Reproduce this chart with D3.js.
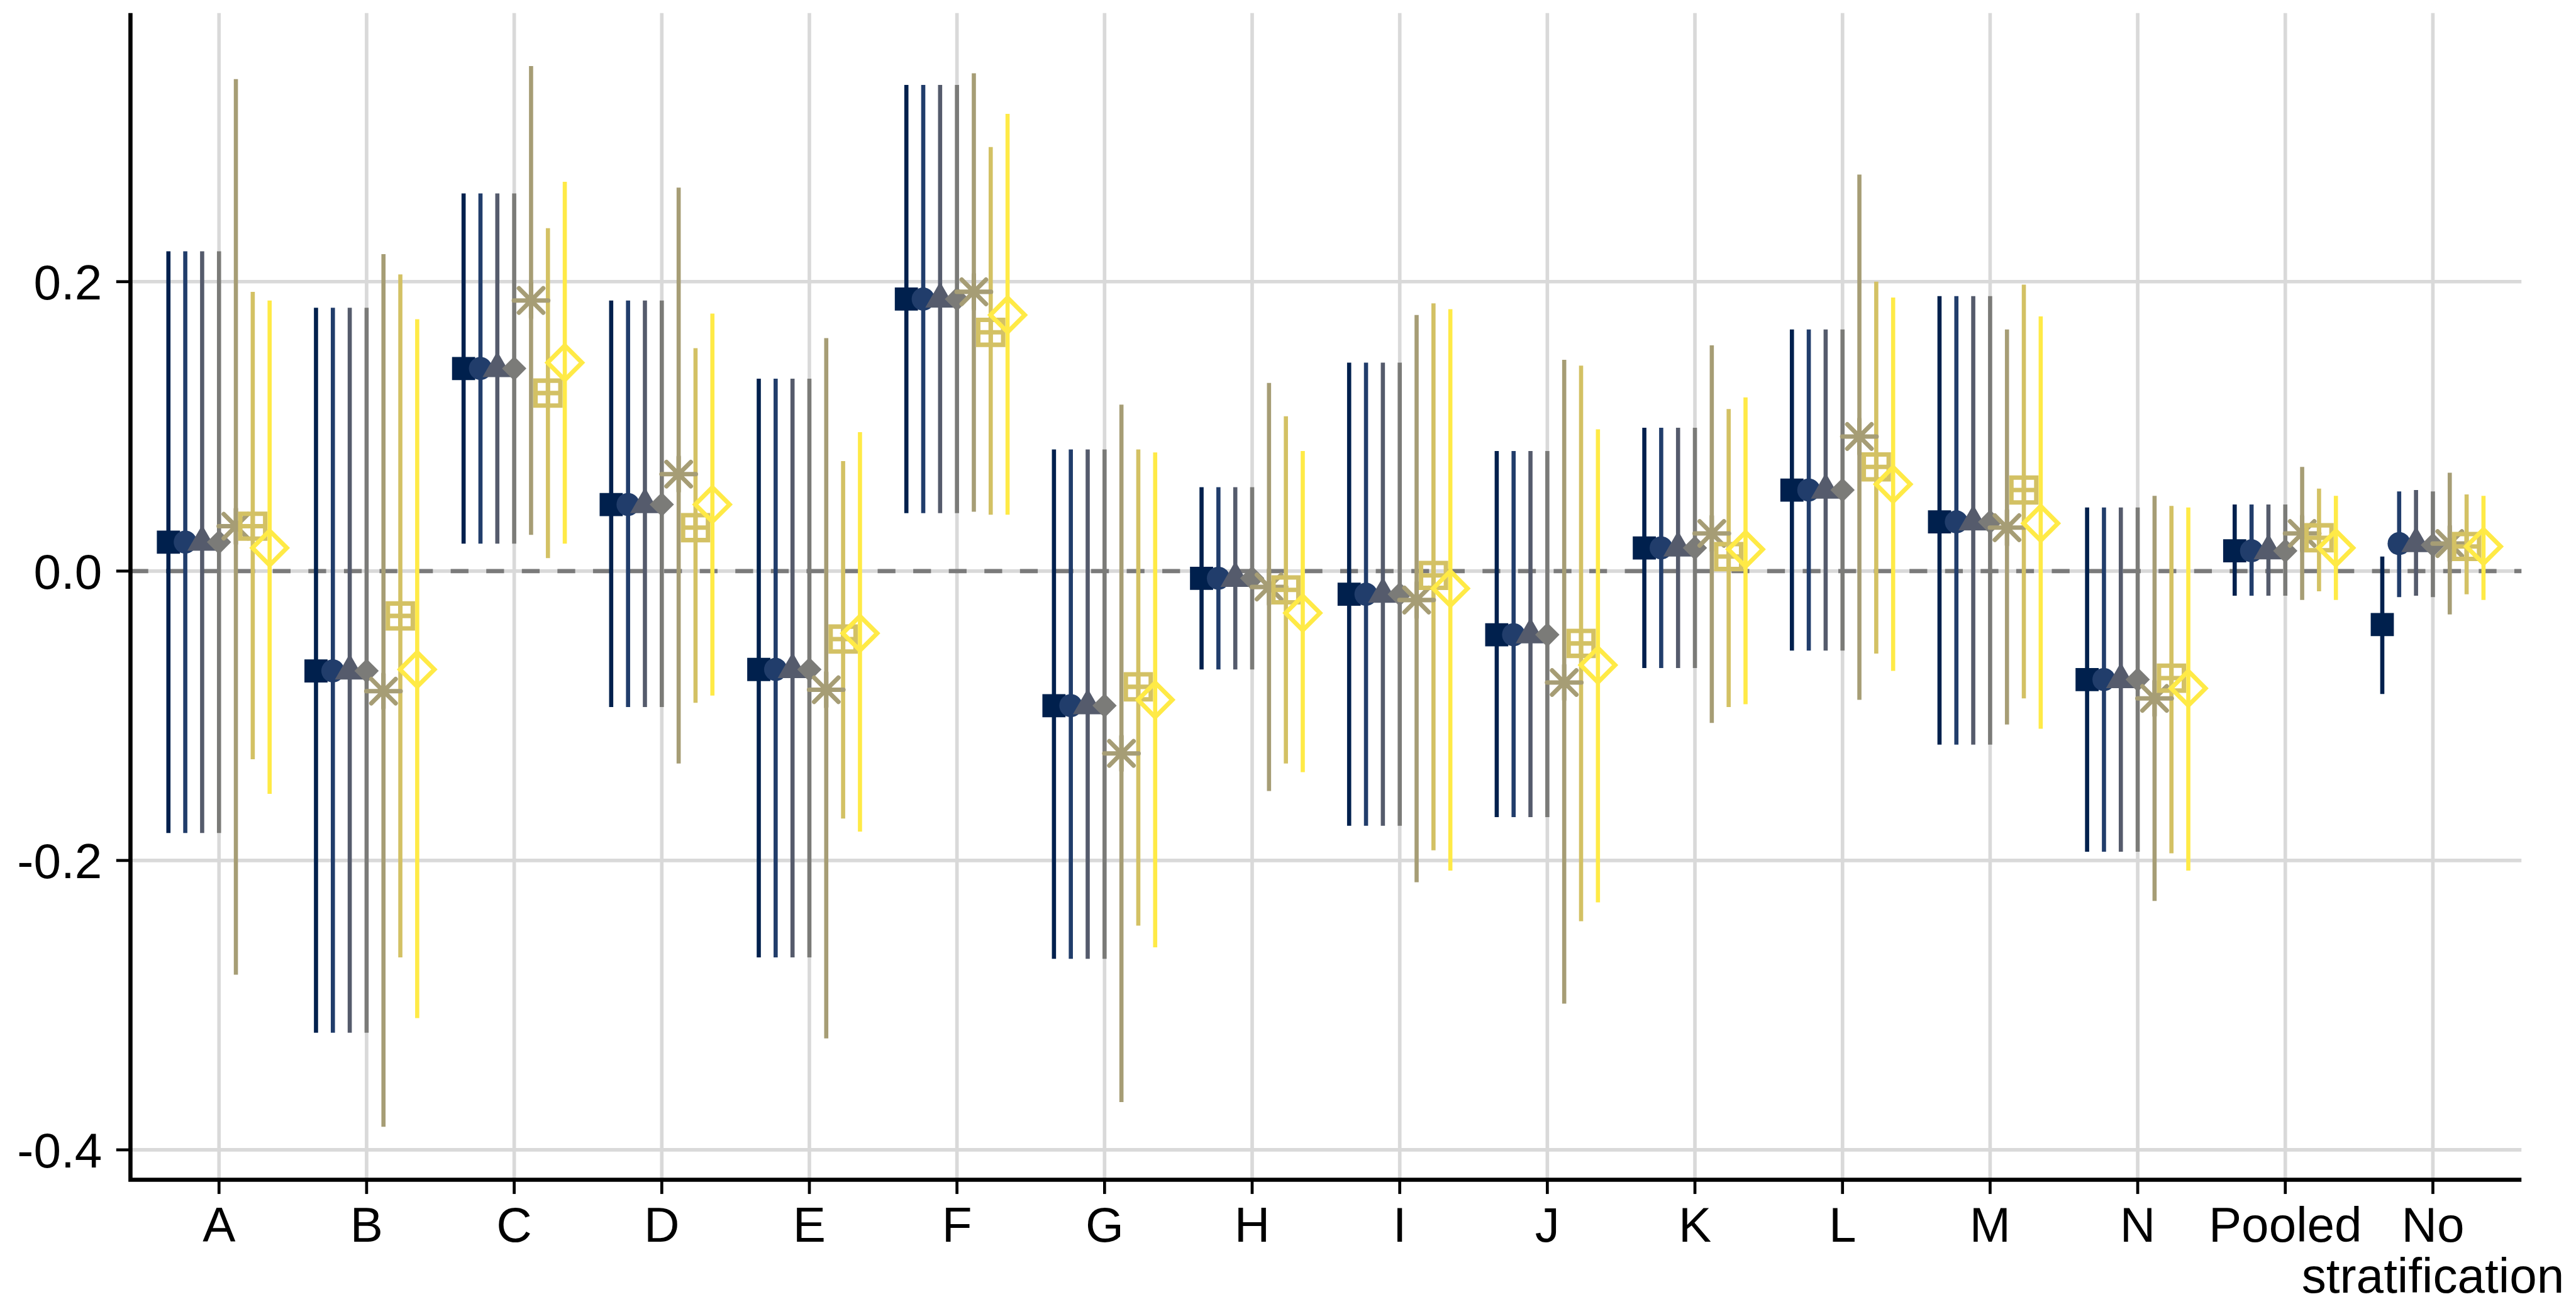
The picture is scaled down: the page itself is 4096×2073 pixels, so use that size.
<!DOCTYPE html>
<html>
<head>
<meta charset="utf-8">
<script src="https://cdn.jsdelivr.net/npm/d3@7"></script>
<style>
  html, body { margin: 0; padding: 0; background: #ffffff; }
  svg { display: block; }
</style>
</head>
<body>
<script>
// ---- data ----------------------------------------------------------------
const categories = ["A", "B", "C", "D", "E", "F", "G", "H", "I", "J", "K", "L", "M", "N",
                    "Pooled", "No stratification"];
const categoryLabelLines = [["A"], ["B"], ["C"], ["D"], ["E"], ["F"], ["G"], ["H"], ["I"], ["J"],
                            ["K"], ["L"], ["M"], ["N"], ["Pooled"], ["No", "stratification"]];

const yTicks = [-0.4, -0.2, 0.0, 0.2];
const yTickLabels = ["-0.4", "-0.2", "0.0", "0.2"];

const seriesNames = ["Model 1", "Model 2", "Model 3", "Model 4", "Model 5", "Model 6", "Model 7"];
const seriesColors = ["#00204D", "#213D6B", "#555B6C", "#7B7B78", "#A69D75", "#D3C164", "#FFEA46"];
const seriesShapes = ["square", "circle", "triangle", "diamondFilled", "asterisk", "squarePlus", "diamondOpen"];

// estimates, lower and upper interval bounds, one value per category
const est1  = [0.020, -0.069, 0.140, 0.046, -0.068, 0.188, -0.093, -0.005, -0.016, -0.044, 0.016, 0.056, 0.034, -0.075, 0.014, -0.037];
const low1  = [-0.181, -0.319, 0.019, -0.094, -0.267, 0.040, -0.268, -0.068, -0.176, -0.170, -0.067, -0.055, -0.120, -0.194, -0.017, -0.085];
const high1 = [0.221, 0.182, 0.261, 0.187, 0.133, 0.336, 0.084, 0.058, 0.144, 0.083, 0.099, 0.167, 0.190, 0.044, 0.046, 0.010];

const est2  = [0.020, -0.069, 0.140, 0.046, -0.068, 0.188, -0.093, -0.005, -0.016, -0.044, 0.016, 0.056, 0.034, -0.075, 0.014, 0.019];
const low2  = [-0.181, -0.319, 0.019, -0.094, -0.267, 0.040, -0.268, -0.068, -0.176, -0.170, -0.067, -0.055, -0.120, -0.194, -0.017, -0.018];
const high2 = [0.221, 0.182, 0.261, 0.187, 0.133, 0.336, 0.084, 0.058, 0.144, 0.083, 0.099, 0.167, 0.190, 0.044, 0.046, 0.055];

const est3  = [0.020, -0.069, 0.140, 0.046, -0.068, 0.188, -0.093, -0.005, -0.016, -0.044, 0.016, 0.056, 0.034, -0.075, 0.014, 0.019];
const low3  = [-0.181, -0.319, 0.019, -0.094, -0.267, 0.040, -0.268, -0.068, -0.176, -0.170, -0.067, -0.055, -0.120, -0.194, -0.017, -0.017];
const high3 = [0.221, 0.182, 0.261, 0.187, 0.133, 0.336, 0.084, 0.058, 0.144, 0.083, 0.099, 0.167, 0.190, 0.044, 0.046, 0.056];

const est4  = [0.020, -0.069, 0.140, 0.046, -0.068, 0.188, -0.093, -0.005, -0.016, -0.044, 0.016, 0.056, 0.034, -0.075, 0.014, 0.018];
const low4  = [-0.181, -0.319, 0.019, -0.094, -0.267, 0.040, -0.268, -0.068, -0.176, -0.170, -0.067, -0.055, -0.120, -0.194, -0.017, -0.018];
const high4 = [0.221, 0.182, 0.261, 0.187, 0.133, 0.336, 0.084, 0.058, 0.144, 0.083, 0.099, 0.167, 0.190, 0.044, 0.046, 0.055];

const est5  = [0.031, -0.083, 0.187, 0.067, -0.082, 0.193, -0.126, -0.011, -0.020, -0.077, 0.026, 0.093, 0.030, -0.088, 0.026, 0.019];
const low5  = [-0.279, -0.384, 0.025, -0.133, -0.323, 0.041, -0.367, -0.152, -0.215, -0.299, -0.105, -0.089, -0.106, -0.228, -0.020, -0.030];
const high5 = [0.340, 0.219, 0.349, 0.265, 0.161, 0.344, 0.115, 0.130, 0.177, 0.146, 0.156, 0.274, 0.167, 0.052, 0.072, 0.068];

const est6  = [0.031, -0.031, 0.123, 0.030, -0.047, 0.165, -0.080, -0.013, -0.003, -0.050, 0.010, 0.072, 0.056, -0.074, 0.023, 0.017];
const low6  = [-0.130, -0.267, 0.009, -0.091, -0.171, 0.039, -0.245, -0.133, -0.193, -0.242, -0.094, -0.057, -0.088, -0.195, -0.014, -0.016];
const high6 = [0.193, 0.205, 0.237, 0.154, 0.076, 0.293, 0.084, 0.107, 0.185, 0.142, 0.112, 0.200, 0.198, 0.045, 0.057, 0.053];

const est7  = [0.016, -0.068, 0.144, 0.046, -0.043, 0.177, -0.089, -0.029, -0.012, -0.065, 0.015, 0.060, 0.033, -0.081, 0.016, 0.017];
const low7  = [-0.154, -0.309, 0.019, -0.086, -0.180, 0.039, -0.260, -0.139, -0.207, -0.229, -0.092, -0.069, -0.109, -0.207, -0.020, -0.020];
const high7 = [0.187, 0.174, 0.269, 0.178, 0.096, 0.316, 0.082, 0.083, 0.181, 0.098, 0.120, 0.189, 0.176, 0.044, 0.052, 0.052];

const estimates = [est1, est2, est3, est4, est5, est6, est7];
const lowers    = [low1, low2, low3, low4, low5, low6, low7];
const uppers    = [high1, high2, high3, high4, high5, high6, high7];

// long-format rows built from the arrays above
const rows = [];
seriesNames.forEach((name, si) => {
  categories.forEach((cat, ci) => {
    rows.push({ series: si, category: cat,
                est: estimates[si][ci], lo: lowers[si][ci], hi: uppers[si][ci] });
  });
});

// ---- layout --------------------------------------------------------------
const W = 4096, H = 2073;
const S = 4096 / 4344;                  // drawing scale
const panel = { left: 220 * S, right: 4252 * S, top: 22 * S, bottom: 1989 * S };
const fontSize = 83 * S;
const fontFamily = "'Liberation Sans', Arial, Helvetica, sans-serif";

const svg = d3.select("body").append("svg")
  .attr("width", W).attr("height", H)
  .attr("viewBox", `0 0 ${W} ${H}`);

svg.append("rect").attr("width", W).attr("height", H).attr("fill", "#ffffff");

// ---- scales --------------------------------------------------------------
const x = d3.scalePoint()
  .domain(categories)
  .range([panel.left, panel.right])
  .padding(0.6);

const dataMin = d3.min(rows, d => d.lo);
const dataMax = d3.max(rows, d => d.hi);
const expand = (dataMax - dataMin) * 0.05;
const y = d3.scaleLinear()
  .domain([dataMin - expand, dataMax + expand])
  .range([panel.bottom, panel.top]);

const nSeries = seriesNames.length;
const dodgeWidth = 0.8 * x.step();
const dodge = si => (si - (nSeries - 1) / 2) * dodgeWidth / nSeries;

// ---- grid ----------------------------------------------------------------
const grid = svg.append("g").attr("class", "grid")
  .attr("stroke", "#d9d9d9").attr("stroke-width", 6 * S);

grid.selectAll("line.h").data(yTicks).join("line")
  .attr("class", "h")
  .attr("x1", panel.left).attr("x2", panel.right)
  .attr("y1", d => y(d)).attr("y2", d => y(d));

grid.selectAll("line.v").data(categories).join("line")
  .attr("class", "v")
  .attr("x1", d => x(d)).attr("x2", d => x(d))
  .attr("y1", panel.top).attr("y2", panel.bottom);

// reference line at zero
svg.append("line")
  .attr("x1", panel.left).attr("x2", panel.right)
  .attr("y1", y(0)).attr("y2", y(0))
  .attr("stroke", "#7a7a7a")
  .attr("stroke-width", 7 * S)
  .attr("stroke-dasharray", `${30 * S},${30 * S}`);

// ---- interval lines --------------------------------------------------------
svg.append("g").attr("class", "intervals")
  .selectAll("line").data(rows).join("line")
  .attr("x1", d => x(d.category) + dodge(d.series))
  .attr("x2", d => x(d.category) + dodge(d.series))
  .attr("y1", d => y(d.lo))
  .attr("y2", d => y(d.hi))
  .attr("stroke", d => seriesColors[d.series])
  .attr("stroke-width", 7 * S)
  .attr("stroke-linecap", "butt");

// ---- point markers --------------------------------------------------------
const markerStroke = 7.5 * S;
const shapePaths = {
  square: () => { const h = 19.5 * S; return `M${-h},${-h}H${h}V${h}H${-h}Z`; },
  triangle: () => { const up = 29 * S, dn = 14.5 * S, hw = 25 * S;
                    return `M0,${-up}L${hw},${dn}L${-hw},${dn}Z`; },
  diamondFilled: () => { const d = 20.5 * S; return `M0,${-d}L${d},0L0,${d}L${-d},0Z`; },
  asterisk: () => { const a = 20.5 * S, p = 29 * S;
                    return `M${-a},${-a}L${a},${a}M${-a},${a}L${a},${-a}M${-p},0L${p},0M0,${-p}L0,${p}`; },
  squarePlus: () => { const h = 21 * S;
                      return `M${-h},${-h}H${h}V${h}H${-h}ZM${-h},0H${h}M0,${-h}V${h}`; },
  diamondOpen: () => { const d = 29 * S; return `M0,${-d}L${d},0L0,${d}L${-d},0Z`; }
};
const filledShapes = new Set(["square", "circle", "triangle", "diamondFilled"]);

const points = svg.append("g").attr("class", "points")
  .selectAll("g").data(rows).join("g")
  .attr("transform", d => `translate(${x(d.category) + dodge(d.series)},${y(d.est)})`);

points.each(function(d) {
  const g = d3.select(this);
  const shape = seriesShapes[d.series];
  const col = seriesColors[d.series];
  if (shape === "circle") {
    g.append("circle").attr("r", 19.5 * S).attr("fill", col);
  } else if (filledShapes.has(shape)) {
    g.append("path").attr("d", shapePaths[shape]()).attr("fill", col);
  } else {
    g.append("path").attr("d", shapePaths[shape]())
      .attr("fill", "none")
      .attr("stroke", col)
      .attr("stroke-width", markerStroke)
      .attr("stroke-linecap", shape === "asterisk" ? "round" : "butt")
      .attr("stroke-linejoin", "miter");
  }
});

// ---- axes ------------------------------------------------------------------
const axisStroke = 7 * S;
const tickLen = 24 * S;

// axis lines
svg.append("path")
  .attr("d", `M${panel.left},${panel.top}V${panel.bottom}H${panel.right}`)
  .attr("fill", "none")
  .attr("stroke", "#000000")
  .attr("stroke-width", axisStroke)
  .attr("stroke-linecap", "butt")
  .attr("stroke-linejoin", "miter");

// y ticks and labels
const yAxis = svg.append("g").attr("class", "y-axis");
yAxis.selectAll("line").data(yTicks).join("line")
  .attr("x1", panel.left - tickLen).attr("x2", panel.left)
  .attr("y1", d => y(d)).attr("y2", d => y(d))
  .attr("stroke", "#000000").attr("stroke-width", 5 * S);
yAxis.selectAll("text").data(yTicks).join("text")
  .attr("x", 172 * S)
  .attr("y", d => y(d) + 0.36 * fontSize)
  .attr("text-anchor", "end")
  .attr("font-family", fontFamily)
  .attr("font-size", fontSize)
  .attr("fill", "#000000")
  .text((d, i) => yTickLabels[i]);

// x ticks and labels (multi-line labels stacked with tspans)
const xAxis = svg.append("g").attr("class", "x-axis");
xAxis.selectAll("line").data(categories).join("line")
  .attr("x1", d => x(d)).attr("x2", d => x(d))
  .attr("y1", panel.bottom).attr("y2", panel.bottom + tickLen)
  .attr("stroke", "#000000").attr("stroke-width", 5 * S);

const xLabels = xAxis.selectAll("text").data(categories).join("text")
  .attr("x", d => x(d))
  .attr("y", 2094 * S)
  .attr("text-anchor", "middle")
  .attr("font-family", fontFamily)
  .attr("font-size", fontSize)
  .attr("fill", "#000000");

xLabels.each(function(d, i) {
  const t = d3.select(this);
  categoryLabelLines[i].forEach((line, li) => {
    t.append("tspan")
      .attr("x", x(d))
      .attr("dy", li === 0 ? 0 : 85 * S)
      .text(line);
  });
});
</script>
</body>
</html>
